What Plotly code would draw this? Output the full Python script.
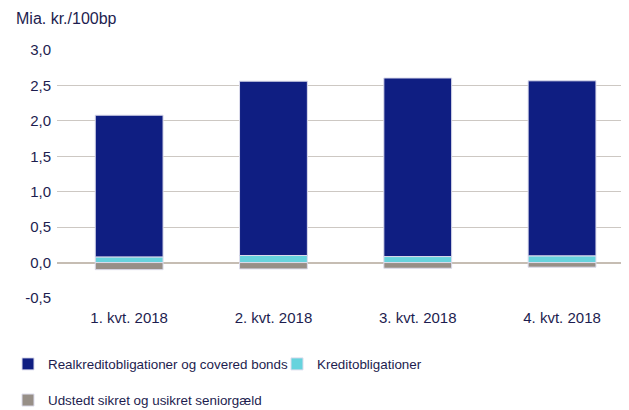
import plotly.graph_objects as go

quarters = ['1. kvt. 2018', '2. kvt. 2018', '3. kvt. 2018', '4. kvt. 2018']
realkredit = [2.00, 2.46, 2.52, 2.47]
kredit = [0.08, 0.10, 0.085, 0.095]
senior = [-0.10, -0.09, -0.08, -0.065]
y_ticks = [-0.5, 0, 0.5, 1.0, 1.5, 2.0, 2.5, 3.0]
y_labels = ['-0,5', '0,0', '0,5', '1,0', '1,5', '2,0', '2,5', '3,0']

text_col = '#1d1d4f'
font = 'Liberation Sans, Arial, sans-serif'

fig = go.Figure()
fig.add_trace(go.Bar(x=quarters, y=kredit, name='Kreditobligationer',
                     marker=dict(color='#66d3dd', line=dict(color='#dcdcec', width=1)),
                     legend='legend', legendrank=2))
fig.add_trace(go.Bar(x=quarters, y=realkredit, name='Realkreditobligationer og covered bonds',
                     marker=dict(color='#0f1e82', line=dict(color='#dcdcec', width=1)),
                     legend='legend', legendrank=1))
fig.add_trace(go.Bar(x=quarters, y=senior, name='Udstedt sikret og usikret seniorgæld',
                     marker=dict(color='#978f87', line=dict(color='#dcdcec', width=1)),
                     legend='legend2'))

# page body has an 8px margin, so the figure is sized to fit the window
fig.update_layout(
    width=621, height=402,
    margin=dict(l=49, r=0, t=42, b=112),
    barmode='relative', bargap=0.53,
    plot_bgcolor='white', paper_bgcolor='white',
    font=dict(family=font, color=text_col, size=15),
    showlegend=True,
    legend=dict(orientation='h', xref='container', yref='container',
                x=0, xanchor='left', y=0.114, yanchor='middle',
                font=dict(size=13.4), traceorder='normal', entrywidth=224,
                bgcolor='rgba(0,0,0,0)'),
    legend2=dict(orientation='h', xref='container', yref='container',
                 x=0, xanchor='left', y=0.024, yanchor='middle',
                 font=dict(size=13.4), bgcolor='rgba(0,0,0,0)'),
    annotations=[dict(text='Mia. kr./100bp', xref='paper', yref='paper', x=-0.075, y=1.129,
                      xanchor='left', yanchor='middle', showarrow=False,
                      font=dict(size=16, color=text_col))],
)
fig.update_yaxes(range=[-0.5, 3.0], tickvals=y_ticks, ticktext=y_labels, automargin=False,
                 showgrid=True, gridcolor='#cdc8c3', gridwidth=1,
                 zeroline=True, zerolinecolor='#c6bdb3', zerolinewidth=2,
                 showline=False, ticks='', ticklabelstandoff=5)
fig.update_xaxes(range=[-0.5, 3.464], showgrid=False, showline=False, ticks='',
                 ticklabelstandoff=9, automargin=False)

fig.write_html('out.html')
